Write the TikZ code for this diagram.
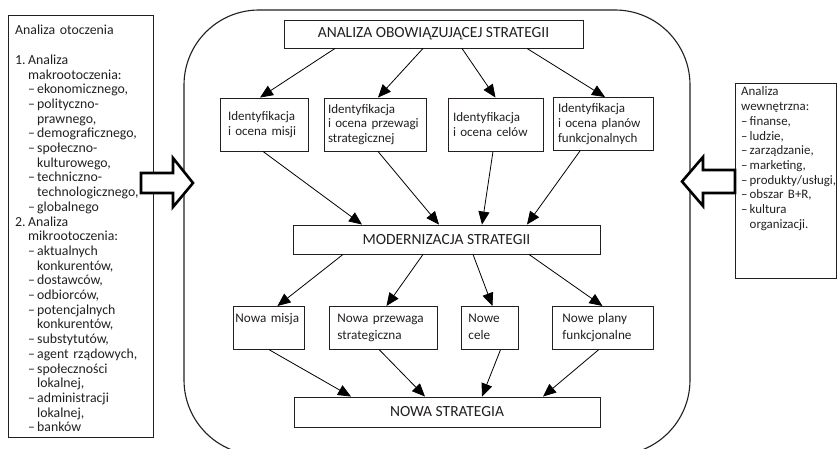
\documentclass[tikz,border=0pt]{standalone}
\usepackage{fontspec}
\setmainfont{Carlito}
\usetikzlibrary{arrows.meta,calc}
\definecolor{ink}{HTML}{231F20}
\begin{document}
\begin{tikzpicture}[x=1pt,y=-1pt,
  box/.style={draw=ink, line width=0.9pt, inner sep=0pt, text=ink},
  capbox/.style={box, font=\fontsize{15.5}{17}\selectfont},
  idbox/.style={box, align=left, minimum height=53pt, font=\fontsize{13}{14.7}\selectfont},
  newbox/.style={box, align=left, anchor=north west, inner ysep=0pt, text height=16pt, text depth=27pt, font=\fontsize{13.2}{16.7}\selectfont},
  conn/.style={draw=black, line width=0.8pt, -{Triangle[length=13pt,width=11pt]}},
  bigarrow/.style={draw=black, line width=2.6pt, line join=miter, fill=white},
  sidetext/.style={align=left, inner sep=0pt, anchor=base west, text=ink, font=\fontsize{13.8}{14.7}\selectfont},
  rtext/.style={sidetext, font=\fontsize{12.9}{14.7}\selectfont},
  frame/.style={draw=ink, line width=1.1pt, rounded corners=75pt}
]
\useasboundingbox (0,0) rectangle (839,449);
\clip (0,0) rectangle (839,449);

% big rounded frame
\draw[frame] (184,10) rectangle (690,455);

% left environment box
\node[box, minimum width=145pt, minimum height=422pt] (envbox) at (80.5,226) {};
\node[sidetext, text width=136pt] (envtext) at (15,35) {Analiza otoczenia\\[14.7pt]
\makebox[13pt][l]{1.}Analiza\\
\hspace*{13pt}makrootoczenia:\\
\hspace*{13pt}\makebox[9pt][l]{--}ekonomicznego,\\
\hspace*{13pt}\makebox[9pt][l]{--}polityczno-\\
\hspace*{22pt}prawnego,\\
\hspace*{13pt}\makebox[9pt][l]{--}demograficznego,\\
\hspace*{13pt}\makebox[9pt][l]{--}społeczno-\\
\hspace*{22pt}kulturowego,\\
\hspace*{13pt}\makebox[9pt][l]{--}techniczno-\\
\hspace*{22pt}technologicznego,\\
\hspace*{13pt}\makebox[9pt][l]{--}globalnego\\
\makebox[13pt][l]{2.}Analiza\\
\hspace*{13pt}mikrootoczenia:\\
\hspace*{13pt}\makebox[9pt][l]{--}aktualnych\\
\hspace*{22pt}konkurentów,\\
\hspace*{13pt}\makebox[9pt][l]{--}dostawców,\\
\hspace*{13pt}\makebox[9pt][l]{--}odbiorców,\\
\hspace*{13pt}\makebox[9pt][l]{--}potencjalnych\\
\hspace*{22pt}konkurentów,\\
\hspace*{13pt}\makebox[9pt][l]{--}substytutów,\\
\hspace*{13pt}\makebox[9pt][l]{--}agent rządowych,\\
\hspace*{13pt}\makebox[9pt][l]{--}społeczności\\
\hspace*{22pt}lokalnej,\\
\hspace*{13pt}\makebox[9pt][l]{--}administracji\\
\hspace*{22pt}lokalnej,\\
\hspace*{13pt}\makebox[9pt][l]{--}banków};

% right internal box
\node[box, minimum width=101pt, minimum height=195pt] (intbox) at (785.5,180.5) {};
\node[rtext, text width=95pt] (inttext) at (741,96) {Analiza\\
wewnętrzna:\\
\makebox[8.5pt][l]{--}finanse,\\
\makebox[8.5pt][l]{--}ludzie,\\
\makebox[8.5pt][l]{--}zarządzanie,\\
\makebox[8.5pt][l]{--}marketing,\\
\makebox[8.5pt][l]{--}produkty/usługi,\\
\makebox[8.5pt][l]{--}obszar B+R,\\
\makebox[8.5pt][l]{--}kultura\\
\hspace*{8.5pt}organizacji.};

% block arrows
\draw[bigarrow] (141,173) -- (173,173) -- (173,158) -- (193,183) -- (173,207) -- (173,193) -- (141,193) -- cycle;
\draw[bigarrow] (735,170) -- (703,170) -- (703,157) -- (682,181.5) -- (703,206) -- (703,193) -- (735,193) -- cycle;

% main nodes
\node[capbox, minimum width=299pt, minimum height=28pt] (top) at (433.5,34) {ANALIZA OBOWIĄZUJĄCEJ STRATEGII};

\node[idbox, inner xsep=8pt, text width=72pt] (id1) at (264,124.5) {Identyfikacja\\i ocena misji};
\node[idbox, inner xsep=4pt, text width=94pt] (id2) at (375,124.5) {Identyfikacja\\i ocena przewagi\\strategicznej};
\node[idbox, inner xsep=5pt, text width=85pt] (id3) at (495.5,124.5) {Identyfikacja\\i ocena celów};
\node[idbox, inner xsep=5pt, text width=90pt] (id4) at (603,124) {Identyfikacja\\i ocena planów\\funkcjonalnych};

\node[capbox, minimum width=307pt, minimum height=29pt] (mod) at (446.5,239.5) {MODERNIZACJA STRATEGII};

\node[newbox, inner xsep=2pt, text width=67pt] (nw1) at (233,306) {Nowa misja};
\node[newbox, inner xsep=8pt, text width=92pt] (nw2) at (329,306) {Nowa przewaga\\strategiczna};
\node[newbox, inner xsep=7pt, text width=43pt] (nw3) at (461,306) {Nowe\\cele};
\node[newbox, inner xsep=10pt, text width=81pt] (nw4) at (552,306) {Nowe plany\\funkcjonalne};

\node[capbox, minimum width=306pt, minimum height=30pt] (nowa) at (447,412) {NOWA STRATEGIA};

% connectors
\draw[conn] ([xshift=-98.5pt]top.south) -- ([xshift=-4pt]id1.north);
\draw[conn] ([xshift=-10.5pt]top.south) -- ([xshift=3pt]id2.north);
\draw[conn] ([xshift=28.5pt]top.south) -- (id3.north);
\draw[conn] ([xshift=93.5pt]top.south) -- ([xshift=2pt]id4.north);

\draw[conn] ([xshift=-1pt]id1.south) -- ([xshift=-84.5pt]mod.north);
\draw[conn] ([xshift=3pt]id2.south) -- ([xshift=-7.5pt]mod.north);
\draw[conn] ([xshift=-2.5pt]id3.south) -- ([xshift=35.5pt]mod.north);
\draw[conn] ([xshift=-23pt]id4.south) -- ([xshift=80.5pt]mod.north);

\draw[conn] ([xshift=-103.5pt]mod.south) -- ([xshift=8.5pt]nw1.north);
\draw[conn] ([xshift=-23.5pt]mod.south) -- ([xshift=3pt]nw2.north);
\draw[conn] ([xshift=26.5pt]mod.south) -- ([xshift=2.5pt]nw3.north);
\draw[conn] ([xshift=82.5pt]mod.south) -- ([xshift=-0.5pt]nw4.north);

\draw[conn] ([xshift=0.5pt]nw1.south) -- ([xshift=-96pt]nowa.north);
\draw[conn] ([xshift=-4pt]nw2.south) -- ([xshift=-22pt]nowa.north);
\draw[conn] ([xshift=10.5pt]nw3.south) -- ([xshift=35pt]nowa.north);
\draw[conn] ([xshift=-4.5pt]nw4.south) -- ([xshift=96pt]nowa.north);
\end{tikzpicture}
\end{document}
